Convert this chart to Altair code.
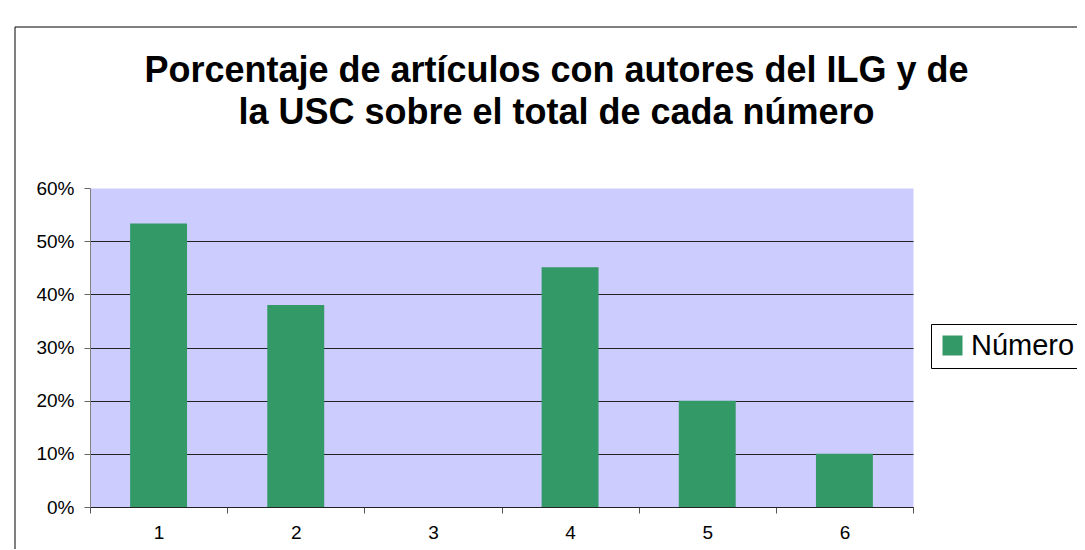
import altair as alt
import pandas as pd

categories = ["1", "2", "3", "4", "5", "6"]
values = [0.533, 0.38, 0.0, 0.451, 0.20, 0.10]
series_name = "Número"
title_lines = [
    "Porcentaje de artículos con autores del ILG y de",
    "la USC sobre el total de cada número",
]
y_tick_values = [0.0, 0.1, 0.2, 0.3, 0.4, 0.5, 0.6]

df = pd.DataFrame({"numero": categories, "pct": values, "serie": [series_name] * len(categories)})

FONT = "Liberation Sans"

frame = alt.Chart(alt.Data(values=[{}])).mark_rect(
    fill="transparent", stroke="black", strokeWidth=1
).encode(
    x=alt.value(-75), x2=alt.value(3000), y=alt.value(-161), y2=alt.value(3000)
)

bars = alt.Chart(df).mark_bar(width=alt.RelativeBandSize(0.415)).encode(
    x=alt.X(
        "numero:N",
        sort=categories,
        scale=alt.Scale(paddingInner=0, paddingOuter=0),
        axis=alt.Axis(
            title=None,
            labelAngle=0,
            tickBand="extent",
            grid=False,
            domainColor="#222222",
            tickColor="#555555",
            tickSize=6,
            labelFont=FONT,
            labelFontSize=19,
            labelColor="black",
            labelPadding=10,
        ),
    ),
    y=alt.Y(
        "pct:Q",
        scale=alt.Scale(domain=[0, 0.6], nice=False),
        axis=alt.Axis(
            title=None,
            values=y_tick_values,
            format=".0%",
            grid=True,
            gridColor={"condition": {"test": "datum.value >= 0.599", "value": "transparent"}, "value": "#222222"},
            domainColor="#808080",
            tickColor="#666666",
            tickSize=6,
            labelFont=FONT,
            labelFontSize=19,
            labelColor="black",
            labelPadding=10,
        ),
    ),
    color=alt.Color(
        "serie:N",
        scale=alt.Scale(domain=[series_name], range=["#339966"]),
        legend=alt.Legend(
            title=None,
            orient="none",
            legendX=841,
            legendY=136,
            strokeColor="black",
            fillColor="white",
            padding=7,
            symbolType="square",
            symbolSize=400,
            symbolStrokeWidth=0,
            symbolOffset=0,
            labelOffset=4,
            labelFont=FONT,
            labelFontSize=29,
            labelColor="black",
        ),
    ),
)

chart = alt.layer(frame, bars).properties(
    width=823,
    height=319,
    autosize=alt.AutoSizeParams(type="none"),
    padding={"left": 82, "top": 180, "right": 164, "bottom": 42},
    title=alt.Title(
        text=title_lines,
        font=FONT,
        fontSize=36,
        fontWeight="bold",
        color="black",
        anchor="middle",
        dx=55,
        offset=0,
        dy=105,
        lineHeight=42,
    ),
).configure(background="white").configure_view(fill="#CCCCFF", stroke="transparent")

chart.save("out.html", embed_options={"renderer": "svg", "actions": False})
